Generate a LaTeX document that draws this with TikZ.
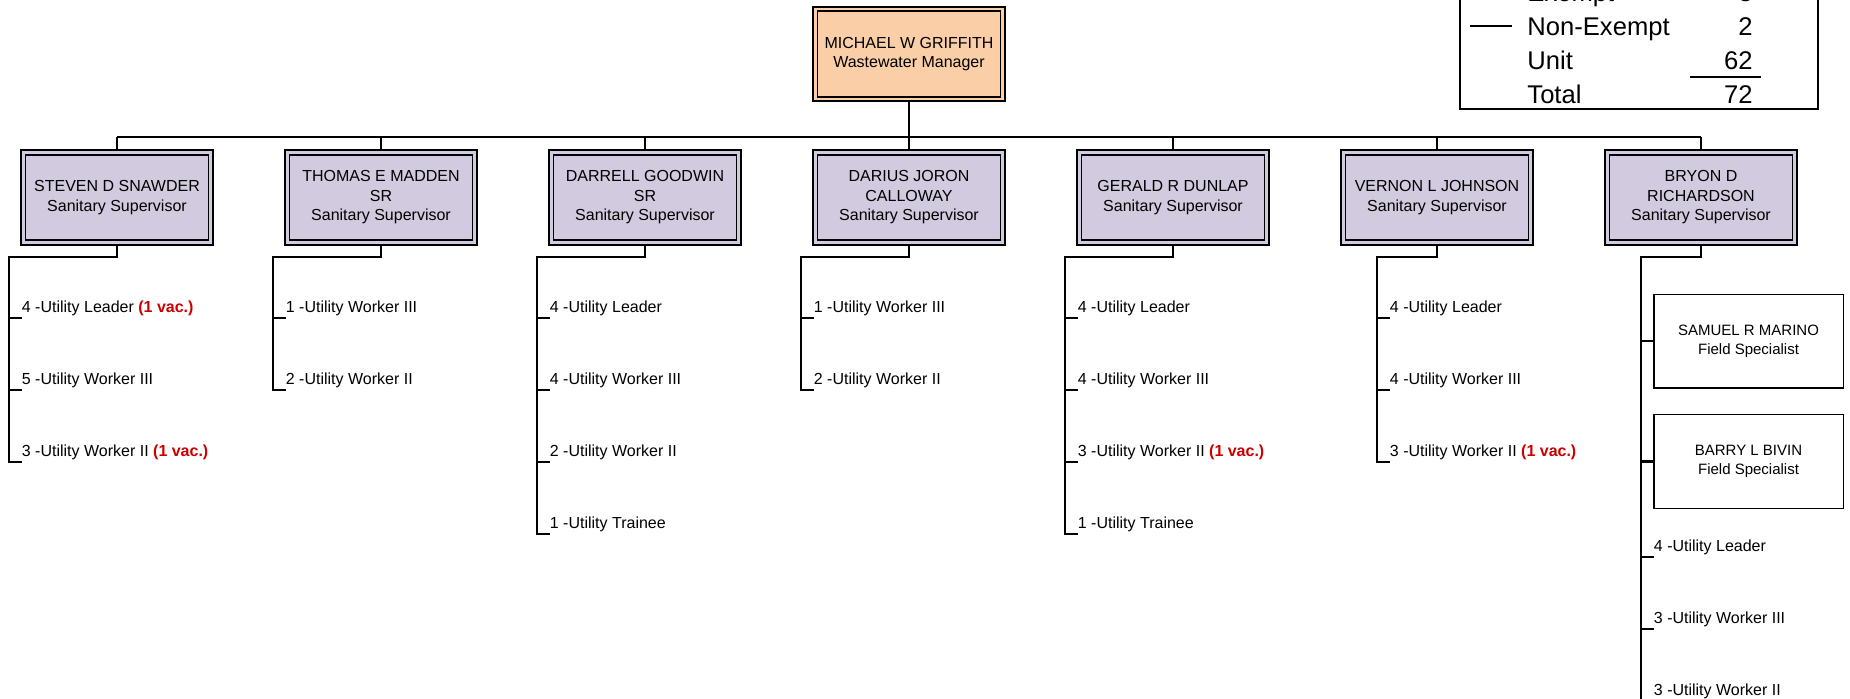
\documentclass[tikz,border=0pt]{standalone}
\usepackage{fontspec}
\setmainfont{Liberation Sans}
\definecolor{peach}{HTML}{FACEA6}
\definecolor{lavender}{HTML}{D2CADE}
\definecolor{vacred}{HTML}{CC0000}
\newcommand{\vacancy}{\textcolor{vacred}{\bfseries (1 vac.)}}
\begin{document}
\begin{tikzpicture}[x = 0.5pt, y = -0.5pt,
		boss/.style = {draw, double, line width = 0.9pt, double distance = 1.4pt, outer sep = 1.6pt, inner sep = 0pt, minimum width = 93.8pt, minimum height = 45pt, align = center, font = \fontsize{8}{9.75}\selectfont},
		mgrbox/.style = {boss, fill = peach, double = peach},
		supbox/.style = {boss, fill = lavender, double = lavender},
		fieldbox/.style = {draw, line width = 0.75pt, inner sep = 0pt, minimum width = 94.75pt, minimum height = 46.75pt, align = center, font = \fontsize{7.5}{9.5}\selectfont},
		post/.style = {anchor = south west, inner sep = 0pt, text depth = 2.5pt, font = \fontsize{8}{9.75}\selectfont},
		wire/.style = {line width = 1pt},
		keytext/.style = {anchor = base west, inner sep = 0pt, font = \fontsize{12.8}{15}\selectfont},
		keynum/.style = {anchor = base east, inner sep = 0pt, font = \fontsize{12.8}{15}\selectfont}]
		\useasboundingbox (0,0) rectangle (1850,699);
		\clip (0,0) rectangle (1850,699);
		% legend
		\draw [line width = 1pt] (1460,-60) rectangle (1818,109.5);
		\node [keytext] (exempt) at (1527,2) {Exempt};
		\node [keynum] (exemptn) at (1753,2) {8};
		\node [keytext] (nonexempt) at (1527,36) {Non-Exempt};
		\node [keynum] (nonexemptn) at (1753,36) {2};
		\node [keytext] (unit) at (1527,70) {Unit};
		\node [keynum] (unitn) at (1753,70) {62};
		\node [keytext] (total) at (1527,104) {Total};
		\node [keynum] (totaln) at (1753,104) {72};
		\draw [line width = 0.8pt] ([shift = {(-28.5pt,5pt)}]nonexempt.base west) -- ++(21pt,0pt);
		\draw [line width = 0.8pt] ([shift = {(-31.5pt,-3.5pt)}]unitn.base east) -- ++(35.5pt,0pt);
		% manager and supervisors
		\node [mgrbox] (griffith) at (909,54) {MICHAEL W GRIFFITH\\Wastewater Manager};
		\node [supbox] (snawder) at (117,197.5) {STEVEN D SNAWDER\\Sanitary Supervisor};
		\node [supbox] (madden) at (381,197.5) {THOMAS E MADDEN\\SR\\Sanitary Supervisor};
		\node [supbox] (goodwin) at (645,197.5) {DARRELL GOODWIN\\SR\\Sanitary Supervisor};
		\node [supbox] (calloway) at (909,197.5) {DARIUS JORON\\CALLOWAY\\Sanitary Supervisor};
		\node [supbox] (dunlap) at (1173,197.5) {GERALD R DUNLAP\\Sanitary Supervisor};
		\node [supbox] (johnson) at (1437,197.5) {VERNON L JOHNSON\\Sanitary Supervisor};
		\node [supbox] (richardson) at (1701,197.5) {BRYON D\\RICHARDSON\\Sanitary Supervisor};
		\coordinate (bus) at (909,137.5);
		\draw [wire] (griffith.south) -- (bus);
		\draw [wire] (bus -| snawder.north) -- (bus -| richardson.north);
		\draw [wire] (bus -| snawder.north) -- (snawder.north);
		\draw [wire] (bus -| madden.north) -- (madden.north);
		\draw [wire] (bus -| goodwin.north) -- (goodwin.north);
		\draw [wire] (bus -| calloway.north) -- (calloway.north);
		\draw [wire] (bus -| dunlap.north) -- (dunlap.north);
		\draw [wire] (bus -| johnson.north) -- (johnson.north);
		\draw [wire] (bus -| richardson.north) -- (richardson.north);
		% staff under each supervisor
		\coordinate (snawdertrunk) at (9,257.5);
		\node [post] (snawder1) at (21.5,318) {4 -Utility Leader \vacancy};
		\node [post] (snawder2) at (21.5,390) {5 -Utility Worker III};
		\node [post] (snawder3) at (21.5,462) {3 -Utility Worker II \vacancy};
		\draw [wire] (snawder.south) |- (snawdertrunk) |- (snawder3.south west);
		\draw [wire] (snawdertrunk |- snawder1.south west) -- (snawder1.south west);
		\draw [wire] (snawdertrunk |- snawder2.south west) -- (snawder2.south west);
		\coordinate (maddentrunk) at (273,257.5);
		\node [post] (madden1) at (285.5,318) {1 -Utility Worker III};
		\node [post] (madden2) at (285.5,390) {2 -Utility Worker II};
		\draw [wire] (madden.south) |- (maddentrunk) |- (madden2.south west);
		\draw [wire] (maddentrunk |- madden1.south west) -- (madden1.south west);
		\coordinate (goodwintrunk) at (537,257.5);
		\node [post] (goodwin1) at (549.5,318) {4 -Utility Leader};
		\node [post] (goodwin2) at (549.5,390) {4 -Utility Worker III};
		\node [post] (goodwin3) at (549.5,462) {2 -Utility Worker II};
		\node [post] (goodwin4) at (549.5,534) {1 -Utility Trainee};
		\draw [wire] (goodwin.south) |- (goodwintrunk) |- (goodwin4.south west);
		\draw [wire] (goodwintrunk |- goodwin1.south west) -- (goodwin1.south west);
		\draw [wire] (goodwintrunk |- goodwin2.south west) -- (goodwin2.south west);
		\draw [wire] (goodwintrunk |- goodwin3.south west) -- (goodwin3.south west);
		\coordinate (callowaytrunk) at (801,257.5);
		\node [post] (calloway1) at (813.5,318) {1 -Utility Worker III};
		\node [post] (calloway2) at (813.5,390) {2 -Utility Worker II};
		\draw [wire] (calloway.south) |- (callowaytrunk) |- (calloway2.south west);
		\draw [wire] (callowaytrunk |- calloway1.south west) -- (calloway1.south west);
		\coordinate (dunlaptrunk) at (1065,257.5);
		\node [post] (dunlap1) at (1077.5,318) {4 -Utility Leader};
		\node [post] (dunlap2) at (1077.5,390) {4 -Utility Worker III};
		\node [post] (dunlap3) at (1077.5,462) {3 -Utility Worker II \vacancy};
		\node [post] (dunlap4) at (1077.5,534) {1 -Utility Trainee};
		\draw [wire] (dunlap.south) |- (dunlaptrunk) |- (dunlap4.south west);
		\draw [wire] (dunlaptrunk |- dunlap1.south west) -- (dunlap1.south west);
		\draw [wire] (dunlaptrunk |- dunlap2.south west) -- (dunlap2.south west);
		\draw [wire] (dunlaptrunk |- dunlap3.south west) -- (dunlap3.south west);
		\coordinate (johnsontrunk) at (1377,257.5);
		\node [post] (johnson1) at (1389.5,318) {4 -Utility Leader};
		\node [post] (johnson2) at (1389.5,390) {4 -Utility Worker III};
		\node [post] (johnson3) at (1389.5,462) {3 -Utility Worker II \vacancy};
		\draw [wire] (johnson.south) |- (johnsontrunk) |- (johnson3.south west);
		\draw [wire] (johnsontrunk |- johnson1.south west) -- (johnson1.south west);
		\draw [wire] (johnsontrunk |- johnson2.south west) -- (johnson2.south west);
		\coordinate (richardsontrunk) at (1641,257.5);
		\node [fieldbox] (marino) at (1748.5,341.5) {SAMUEL R MARINO\\Field Specialist};
		\node [fieldbox] (bivin) at (1748.5,461.5) {BARRY L BIVIN\\Field Specialist};
		\node [post] (richardson1) at (1653.5,557) {4 -Utility Leader};
		\node [post] (richardson2) at (1653.5,629) {3 -Utility Worker III};
		\node [post] (richardson3) at (1653.5,701) {3 -Utility Worker II};
		\draw [wire] (richardson.south) |- (richardsontrunk) |- (richardson3.south west);
		\draw [wire] (richardsontrunk |- marino.west) -- (marino.west);
		\draw [wire] (richardsontrunk |- bivin.west) -- (bivin.west);
		\draw [wire] (richardsontrunk |- richardson1.south west) -- (richardson1.south west);
		\draw [wire] (richardsontrunk |- richardson2.south west) -- (richardson2.south west);
	\end{tikzpicture}
\end{document}
